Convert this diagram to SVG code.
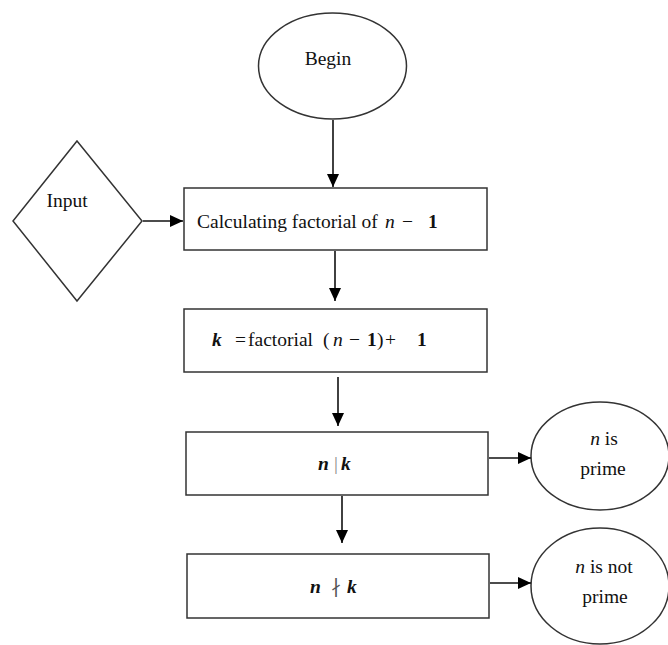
<svg xmlns="http://www.w3.org/2000/svg" width="668" height="645" viewBox="0 0 668 645">
<defs>
<marker id="ah" viewBox="0 0 13 12" refX="13" refY="6" markerWidth="13" markerHeight="12" markerUnits="userSpaceOnUse" orient="auto">
<path d="M0,0 L13,6 L0,12 Z" fill="#000"/>
</marker>
<style>
.s{fill:#fff;stroke:#333;stroke-width:1.5}
.t{font-family:"Liberation Serif","Times New Roman",serif;font-size:19.5px;fill:#111}
.m{font-style:italic}
.b{font-weight:bold}
.c{stroke:#111;stroke-width:1.6;fill:none}
</style>
</defs>
<rect width="668" height="645" fill="#fff"/>
<g id="begin">
<ellipse class="s" cx="332.5" cy="66" rx="74" ry="53"/>
<text class="t" x="328" y="65" text-anchor="middle">Begin</text>
</g>
<g id="input">
<polygon class="s" points="77,141 142,221 77,301 13,221"/>
<text class="t" x="67" y="207" text-anchor="middle">Input</text>
</g>
<g id="calc">
<rect class="s" x="184" y="188" width="303" height="62"/>
<text class="t" x="197" y="228">Calculating factorial of <tspan class="m" x="385">n</tspan><tspan x="402">−</tspan><tspan class="b" x="428">1</tspan></text>
</g>
<g id="kdef">
<rect class="s" x="184" y="309" width="303" height="63"/>
<text class="t" x="212" y="346"><tspan class="m b">k</tspan><tspan x="235">=</tspan><tspan x="248">factorial</tspan><tspan x="323">(</tspan><tspan class="m" x="333">n</tspan><tspan x="349">−</tspan><tspan class="b" x="367">1</tspan><tspan x="377">)</tspan><tspan x="385">+</tspan><tspan class="b" x="417">1</tspan></text>
</g>
<g id="divides">
<rect class="s" x="186" y="432" width="302" height="63"/>
<text class="t" x="318" y="470"><tspan class="m b">n</tspan><tspan x="334" fill="#888">|</tspan><tspan class="m b" x="341">k</tspan></text>
</g>
<g id="notdivides">
<rect class="s" x="187" y="554" width="302" height="64"/>
<text class="t" x="310" y="593"><tspan class="m b">n</tspan><tspan x="331" fill="#555">∤</tspan><tspan class="m b" x="347">k</tspan></text>
</g>
<g id="prime">
<ellipse class="s" cx="600" cy="456" rx="69" ry="54"/>
<text class="t" x="604" y="445" text-anchor="middle"><tspan class="m">n</tspan> is</text>
<text class="t" x="603" y="475" text-anchor="middle">prime</text>
</g>
<g id="notprime">
<ellipse class="s" cx="600" cy="586" rx="69" ry="58"/>
<text class="t" x="604" y="573" text-anchor="middle"><tspan class="m">n</tspan> is not</text>
<text class="t" x="605" y="603" text-anchor="middle">prime</text>
</g>
<g id="connectors">
<line class="c" x1="333" y1="120" x2="333" y2="187" marker-end="url(#ah)"/>
<line class="c" x1="143" y1="221" x2="183" y2="221" marker-end="url(#ah)"/>
<line class="c" x1="335" y1="251" x2="335" y2="301" marker-end="url(#ah)"/>
<line class="c" x1="338" y1="377" x2="338" y2="426" marker-end="url(#ah)"/>
<line class="c" x1="489" y1="458" x2="531" y2="458" marker-end="url(#ah)"/>
<line class="c" x1="342" y1="496" x2="342" y2="543" marker-end="url(#ah)"/>
<line class="c" x1="490" y1="583" x2="531" y2="583" marker-end="url(#ah)"/>
</g>
</svg>
